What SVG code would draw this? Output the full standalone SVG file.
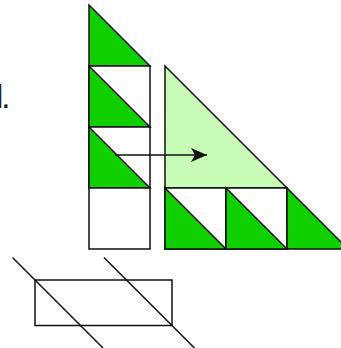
<svg xmlns="http://www.w3.org/2000/svg" width="341" height="348" viewBox="0 0 341 348">
<defs>
<style>
.s{stroke:#111;stroke-width:1.5;fill:none;stroke-linejoin:miter}
.g{fill:#11d000;stroke:#111;stroke-width:1.5}
.lg{fill:#c6fcb6;stroke:#111;stroke-width:1.5}
.w{fill:#fff;stroke:#111;stroke-width:1.5}
.t{font-family:"Liberation Sans",Arial,sans-serif;font-size:33px;fill:#222}
</style>
<marker id="ah" viewBox="0 0 10 10" refX="10" refY="5" markerWidth="8" markerHeight="8" markerUnits="userSpaceOnUse" orient="auto">
<path d="M0,0 L10,5 L0,10 L3,5 z" fill="#111"/>
</marker>
<marker id="ah2" viewBox="0 0 16 14" refX="16" refY="7" markerWidth="16" markerHeight="14" markerUnits="userSpaceOnUse" orient="auto">
<path d="M0,0 L16,7 L0,14 L4,7 z" fill="#111"/>
</marker>
</defs>
<text class="t" x="-3.9" y="108" letter-spacing="-2.1">l.</text>
<g id="left-column">
<polygon class="g" points="89,5 89,66 150,66"/>
<rect class="w" x="89" y="66" width="61" height="61"/>
<polygon class="g" points="89,66 89,127 150,127"/>
<rect class="w" x="89" y="127" width="61" height="61"/>
<polygon class="g" points="89,127 89,188 150,188"/>
<rect class="w" x="89" y="188" width="61" height="61"/>
</g>
<g id="big-triangle">
<polygon class="lg" points="165,66 165,188 287,188"/>
</g>
<g id="bottom-row">
<rect class="w" x="165" y="188" width="61" height="61"/>
<polygon class="g" points="165,188 165,249 226,249"/>
<rect class="w" x="226" y="188" width="61" height="61"/>
<polygon class="g" points="226,188 226,249 287,249"/>
<polygon class="g" points="287,188 287,249 348,249"/>
</g>
<g id="connectors">
<line class="s" x1="115" y1="155" x2="207" y2="155" marker-end="url(#ah2)"/>
</g>
<g id="strip">
<rect class="s" x="35" y="280" width="137" height="45.5"/>
<line class="s" x1="12.5" y1="257.5" x2="103" y2="348"/>
<line class="s" x1="104" y1="257.5" x2="194.5" y2="348"/>
</g>
</svg>
